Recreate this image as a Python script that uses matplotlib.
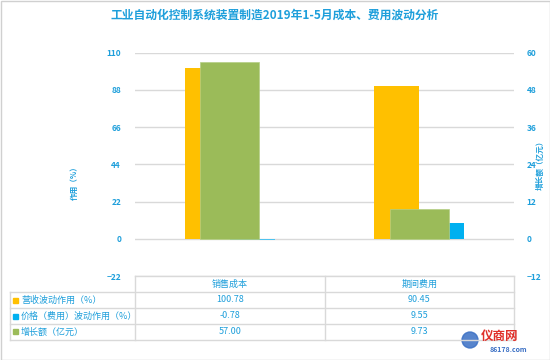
import matplotlib
matplotlib.use("Agg")
import matplotlib.pyplot as plt
import numpy as np
from matplotlib.patches import Rectangle

plt.rcParams['font.family'] = ['Noto Sans CJK SC', 'DejaVu Sans']

# ---- data ----
title = "工业自动化控制系统装置制造2019年1-5月成本、费用波动分析"
categories = ["销售成本", "期间费用"]
series_names = ["营收波动作用（%）", "价格（费用）波动作用（%）", "增长额（亿元）"]
revenue_effect = [100.78, 90.45]
price_effect = [-0.78, 9.55]
growth = [57.00, 9.73]
left_ticks = [-22, 0, 22, 44, 66, 88, 110]
right_ticks = [-12, 0, 12, 24, 36, 48, 60]
left_label = "作用（%）"
right_label = "增长额（亿元）"

# ---- style ----
W, H = 550, 360
BLUE_TXT = "#1E9FDB"
C_OR, C_BL, C_GR = "#FFC000", "#00B0F0", "#9BBB59"
GRID = "#D9D9D9"

fig = plt.figure(figsize=(W / 100, H / 100), dpi=100)
fig.patch.set_facecolor("white")

# plot area in pixels
px_l, px_r, px_t, px_b = 135, 514, 52.7, 276
ax = fig.add_axes([px_l / W, 1 - px_b / H, (px_r - px_l) / W, (px_b - px_t) / H])
ax2 = ax.twinx()

x = np.arange(len(categories))
w = 0.2375
ax.bar(x - w / 2, revenue_effect, w, color=C_OR, zorder=3)
ax.bar(x + w / 2, price_effect, w, color="#4FC3EF", zorder=3)
ax2.bar(x, growth, 0.313, color=C_GR, zorder=3, edgecolor="#B5CF85", linewidth=0.5)
# redraw second-category price bar colour (full saturation where visible)
ax.patches[-1].set_facecolor(C_BL)

ax.set_xlim(-0.5, len(categories) - 0.5)
ax.set_ylim(left_ticks[0], left_ticks[-1])
ax2.set_ylim(right_ticks[0], right_ticks[-1])
ax.set_yticks(left_ticks)
ax2.set_yticks(right_ticks)
ax.set_xticks([])
ax2.set_xticks([])
for a in (ax, ax2):
    for s in a.spines.values():
        s.set_visible(False)
    a.tick_params(axis='y', length=0, labelsize=6, labelcolor=BLUE_TXT)
    for lab in a.get_yticklabels():
        lab.set_fontweight("bold")
ax.tick_params(axis='y', pad=10)
ax2.tick_params(axis='y', pad=9)
ax.yaxis.grid(True, color=GRID, linewidth=1, zorder=0)
ax.set_axisbelow(True)

fig.text(74.5 / W, 1 - 181.5 / H, left_label, rotation=90, ha='center', va='center',
         color=BLUE_TXT, fontsize=5.5, fontweight='bold')
fig.text(540 / W, 1 - 163 / H, right_label, rotation=90, ha='center', va='center',
         color=BLUE_TXT, fontsize=5.5, fontweight='bold')

fig.text(0.5, 1 - 15 / H, title, ha='center', va='center', color=BLUE_TXT,
         fontsize=8.5, fontweight='bold')

# ---- data table (overlay in pixel coordinates) ----
ov = fig.add_axes([0, 0, 1, 1], zorder=5)
ov.set_xlim(0, W)
ov.set_ylim(H, 0)
ov.axis('off')
ov.patch.set_alpha(0)

tab_left, col_x, col_mid, tab_right = 10, px_l, 324.5, px_r
row_lines = [276, 292, 308, 324, 339.5]
lk = dict(color=GRID, linewidth=1)
ov.plot([col_x, tab_right], [row_lines[0]] * 2, **lk)
for yy in row_lines[1:]:
    ov.plot([tab_left, tab_right], [yy, yy], **lk)
ov.plot([tab_left, tab_left], [row_lines[1], row_lines[-1]], **lk)
for xx in (col_x, col_mid, tab_right):
    ov.plot([xx, xx], [row_lines[0], row_lines[-1]], **lk)

col_centers = [(col_x + col_mid) / 2, (col_mid + tab_right) / 2]
for cx, cat in zip(col_centers, categories):
    ov.text(cx, (row_lines[0] + row_lines[1]) / 2, cat, ha='center', va='center',
            color=BLUE_TXT, fontsize=6.5)

table_rows = [revenue_effect, price_effect, growth]
colors = [C_OR, C_BL, C_GR]
for i, (name, vals, c) in enumerate(zip(series_names, table_rows, colors)):
    yc = (row_lines[i + 1] + row_lines[i + 2]) / 2
    ov.add_patch(Rectangle((13, yc - 2.5), 5, 5, color=c))
    ov.text(21, yc, name, ha='left', va='center', color=BLUE_TXT, fontsize=6.5)
    for cx, v in zip(col_centers, vals):
        ov.text(cx, yc, f"{v:.2f}", ha='center', va='center', color=BLUE_TXT, fontsize=6.5)

# outer frame
ov.add_patch(Rectangle((0.5, 0.5), W - 1, H - 1, fill=False, edgecolor="#D0D0D0", linewidth=1))

# watermark
ov.add_patch(plt.Circle((470, 340), 8, color="#3A6FC4", alpha=0.85))
ov.text(500, 336, "仪商网", ha='center', va='center', color="#E0302A", fontsize=9, fontweight='bold')
ov.text(508, 350, "86178.com", ha='center', va='center', color="#3A6FC4", fontsize=5,
        fontstyle='italic', fontweight='bold')

fig.savefig("out.png", dpi=100)
